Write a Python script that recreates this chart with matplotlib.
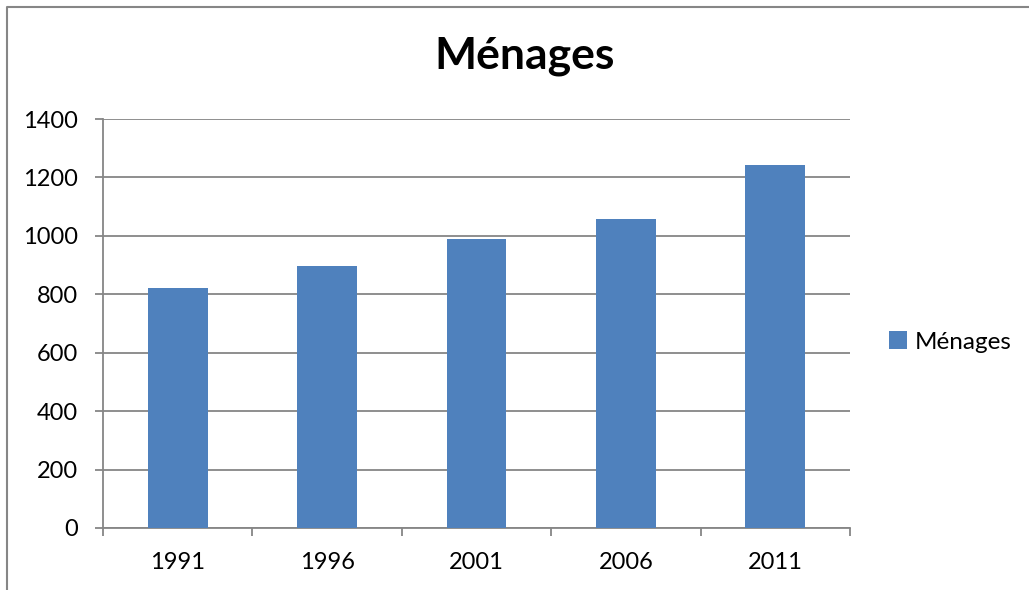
import matplotlib
matplotlib.use("Agg")
import matplotlib.pyplot as plt
from matplotlib.lines import Line2D
import numpy as np

plt.rcParams['font.family'] = ['Lato', 'DejaVu Sans']

categories = ["1991", "1996", "2001", "2006", "2011"]
values = [823, 898, 990, 1059, 1243]
series_name = "Ménages"
title = "Ménages"
yticks = [0, 200, 400, 600, 800, 1000, 1200, 1400]

W, H = 1029, 590
fig = plt.figure(figsize=(W / 100, H / 100), dpi=100)
ax = fig.add_axes([103 / W, (H - 528) / H, (850 - 103) / W, (528 - 119) / H])

grey = "#868686"
x = np.arange(len(categories))
ax.bar(x, values, width=0.4, color="#4F81BD", label=series_name, zorder=3)

ax.set_xlim(-0.5, len(categories) - 0.5)
ax.set_ylim(0, 1400)
ax.set_yticks(yticks)
ax.set_yticklabels([str(v) for v in yticks])
ax.yaxis.grid(True, color=grey, linewidth=1.3, zorder=0)
ax.set_axisbelow(True)

ax.set_xticks(x)
ax.set_xticklabels(categories)
ax.set_xticks(np.arange(-0.5, len(categories)), minor=True)
ax.tick_params(axis='x', which='major', length=0, pad=17, labelsize=17)
ax.tick_params(axis='x', which='minor', length=6, width=1.3, color=grey, direction='out')
ax.tick_params(axis='y', which='major', length=6, width=1.3, color=grey, direction='out', pad=12, labelsize=17)

for s in ['top', 'right']:
    ax.spines[s].set_visible(False)
for s in ['left', 'bottom']:
    ax.spines[s].set_color(grey)
    ax.spines[s].set_linewidth(1.3)

fig.text(525 / W, 1 - 68 / H, title, ha='center', va='baseline', fontsize=32, fontweight='bold')

leg = fig.legend(loc='center left', bbox_to_anchor=(889 / W, 1 - 342 / H), frameon=False,
                 fontsize=17.5, handlelength=0.75, handleheight=0.75, handletextpad=0.3,
                 borderaxespad=0, borderpad=0)

fig.add_artist(Line2D([7 / W, 7 / W, 1], [0, 1 - 7 / H, 1 - 7 / H], transform=fig.transFigure,
                      color=grey, linewidth=1.5))

fig.savefig("out.png", dpi=100)
